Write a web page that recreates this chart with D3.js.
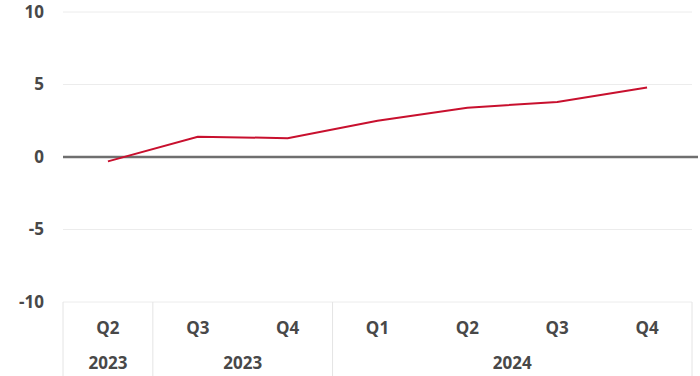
<!DOCTYPE html>
<html>
<head>
<meta charset="utf-8">
<script src="https://cdn.jsdelivr.net/npm/d3@7"></script>
<style>
  body { margin: 0; background: #fff; }
  text { font-family: "Open Sans", "Noto Sans", sans-serif; font-weight: bold; fill: #484848; }
</style>
</head>
<body>
<div id="wrapper"></div>
<script>
// chart data
let quarters = ["Q2", "Q3", "Q4", "Q1", "Q2", "Q3", "Q4"]
let values = [-0.3, 1.4, 1.3, 2.5, 3.4, 3.8, 4.8]
let years = [
    { label: "2023", from: 0, to: 1 },
    { label: "2023", from: 1, to: 3 },
    { label: "2024", from: 3, to: 7 }
]
let yTicks = [-10, -5, 0, 5, 10]

function drawChart() {
    let dimensions = {
        width: 700,
        height: 376,
        margin: { top: 12, right: 8, bottom: 74, left: 63 }
    }
    let innerW = dimensions.width - dimensions.margin.left - dimensions.margin.right
    let innerH = dimensions.height - dimensions.margin.top - dimensions.margin.bottom

    let svg = d3.select("#wrapper")
        .append("svg")
        .attr("width", dimensions.width)
        .attr("height", dimensions.height)
        .append("g")
        .attr("transform", "translate(" + dimensions.margin.left + "," + dimensions.margin.top + ")")

    let x = d3.scaleBand()
        .domain(d3.range(quarters.length))
        .range([0, innerW])

    let y = d3.scaleLinear()
        .domain([-10, 10])
        .range([innerH, 0])

    // gridlines
    svg.append("g")
        .selectAll("line")
        .data(yTicks)
        .enter()
        .append("line")
        .attr("x1", 0)
        .attr("x2", innerW)
        .attr("y1", d => y(d))
        .attr("y2", d => y(d))
        .attr("stroke", "#ececec")
        .attr("stroke-width", 1)

    // y labels
    svg.append("g")
        .selectAll("text")
        .data(yTicks)
        .enter()
        .append("text")
        .attr("x", -19)
        .attr("y", d => y(d))
        .attr("dy", "0.35em")
        .attr("text-anchor", "end")
        .style("font-size", "17px")
        .text(d => d)

    // category axis: separators
    let seps = [0].concat(years.map(d => d.to))
    svg.append("g")
        .selectAll("line")
        .data(seps)
        .enter()
        .append("line")
        .attr("x1", d => d === quarters.length ? innerW : x(d))
        .attr("x2", d => d === quarters.length ? innerW : x(d))
        .attr("y1", innerH)
        .attr("y2", dimensions.height - dimensions.margin.top)
        .attr("stroke", "#e4e4e4")
        .attr("stroke-width", 1)

    // quarter labels
    svg.append("g")
        .selectAll("text")
        .data(quarters)
        .enter()
        .append("text")
        .attr("x", (d, i) => x(i) + x.bandwidth() / 2)
        .attr("y", innerH + 26)
        .attr("dy", "0.35em")
        .attr("text-anchor", "middle")
        .style("font-size", "17px")
        .text(d => d)

    // year labels
    svg.append("g")
        .selectAll("text")
        .data(years)
        .enter()
        .append("text")
        .attr("x", d => (x(d.from) + (d.to === quarters.length ? innerW : x(d.to))) / 2)
        .attr("y", innerH + 61)
        .attr("dy", "0.35em")
        .attr("text-anchor", "middle")
        .style("font-size", "17px")
        .text(d => d.label)

    // zero line
    svg.append("line")
        .attr("x1", 0)
        .attr("x2", innerW + 6)
        .attr("y1", y(0))
        .attr("y2", y(0))
        .attr("stroke", "#6f6f6f")
        .attr("stroke-width", 2.5)

    // series line
    let line = d3.line()
        .x((d, i) => x(i) + x.bandwidth() / 2)
        .y(d => y(d))

    svg.append("path")
        .datum(values)
        .attr("fill", "none")
        .attr("stroke", "#c8102e")
        .attr("stroke-width", 2)
        .attr("d", line)
}

drawChart()
</script>
</body>
</html>
